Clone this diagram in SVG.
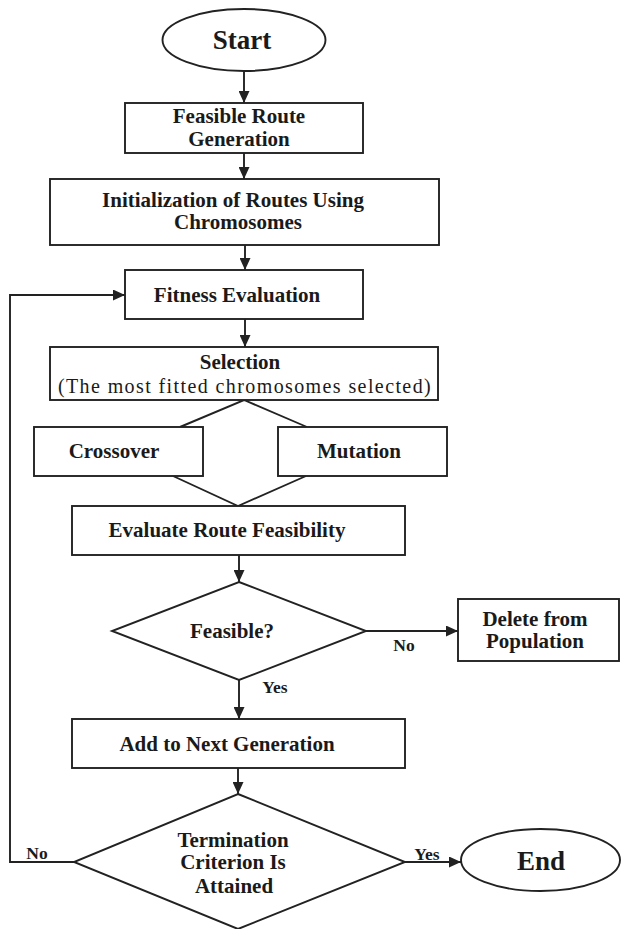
<svg xmlns="http://www.w3.org/2000/svg" width="621" height="929" viewBox="0 0 621 929">
<style>
.shape{fill:#fff;stroke:#222;stroke-width:1.9}
.line{fill:none;stroke:#222;stroke-width:1.9}
.t{font-family:"Liberation Serif","Times New Roman",serif;font-weight:bold;font-size:21px;fill:#1a1a1a;text-anchor:middle}
.big{font-size:27px}
.lbl{font-size:17.5px}
.reg{font-weight:normal;font-size:20px;letter-spacing:1.4px}
</style>
<defs>
<marker id="ah" viewBox="0 0 12 11" refX="12" refY="5.5" markerWidth="12" markerHeight="11" markerUnits="userSpaceOnUse" orient="auto">
<path d="M0,0 L12,5.5 L0,11 z" fill="#222"/>
</marker>
</defs>
<rect width="621" height="929" fill="#fff"/>

<g id="connectors">
<line class="line" x1="244" y1="71" x2="244" y2="103" marker-end="url(#ah)"/>
<line class="line" x1="244" y1="153" x2="244" y2="179" marker-end="url(#ah)"/>
<line class="line" x1="245" y1="245" x2="245" y2="270" marker-end="url(#ah)"/>
<line class="line" x1="245" y1="319" x2="245" y2="347" marker-end="url(#ah)"/>
<polyline class="line" points="180,427 244,400 307,427"/>
<polyline class="line" points="173,476 238,506 306,476"/>
<line class="line" x1="239" y1="555" x2="239" y2="582" marker-end="url(#ah)"/>
<line class="line" x1="366" y1="631" x2="458" y2="631" marker-end="url(#ah)"/>
<line class="line" x1="239" y1="680" x2="239" y2="719" marker-end="url(#ah)"/>
<line class="line" x1="238" y1="768" x2="238" y2="794" marker-end="url(#ah)"/>
<line class="line" x1="405" y1="862" x2="461" y2="862" marker-end="url(#ah)"/>
<polyline class="line" points="74,862 10,862 10,295 125,295" marker-end="url(#ah)"/>
<text class="t lbl" x="404" y="651">No</text>
<text class="t lbl" x="275" y="693">Yes</text>
<text class="t lbl" x="427" y="860">Yes</text>
<text class="t lbl" x="37" y="859">No</text>
</g>

<g id="start">
<ellipse class="shape" cx="244" cy="40" rx="81.5" ry="31"/>
<text class="t big" x="242" y="49">Start</text>
</g>

<g id="feasible-route-generation">
<rect class="shape" x="125" y="103" width="238" height="50"/>
<text class="t" x="239" y="123">Feasible Route</text>
<text class="t" x="239" y="146">Generation</text>
</g>

<g id="initialization">
<rect class="shape" x="50" y="179" width="389" height="66"/>
<text class="t" x="233" y="207">Initialization of Routes Using</text>
<text class="t" x="238" y="229">Chromosomes</text>
</g>

<g id="fitness-evaluation">
<rect class="shape" x="125" y="270" width="238" height="49"/>
<text class="t" x="237" y="302">Fitness Evaluation</text>
</g>

<g id="selection">
<rect class="shape" x="50" y="347" width="388" height="53"/>
<text class="t" x="240" y="369">Selection</text>
<text class="t reg" x="245" y="393">(The most fitted chromosomes selected)</text>
</g>

<g id="crossover">
<rect class="shape" x="34" y="427" width="169" height="49"/>
<text class="t" x="114" y="458">Crossover</text>
</g>

<g id="mutation">
<rect class="shape" x="278" y="427" width="169" height="49"/>
<text class="t" x="359" y="458">Mutation</text>
</g>

<g id="evaluate-route-feasibility">
<rect class="shape" x="72" y="506" width="333" height="49"/>
<text class="t" x="227" y="537">Evaluate Route Feasibility</text>
</g>

<g id="feasible-decision">
<polygon class="shape" points="239,582 366,631 239,680 112,631"/>
<text class="t" x="232" y="638">Feasible?</text>
</g>

<g id="delete-from-population">
<rect class="shape" x="458" y="599" width="161" height="62"/>
<text class="t" x="535" y="626">Delete from</text>
<text class="t" x="535" y="648">Population</text>
</g>

<g id="add-to-next-generation">
<rect class="shape" x="72" y="719" width="333" height="49"/>
<text class="t" x="227" y="751">Add to Next Generation</text>
</g>

<g id="termination-decision">
<polygon class="shape" points="238,794 405,862 238,929 74,862"/>
<text class="t" x="233" y="847">Termination</text>
<text class="t" x="233" y="869">Criterion Is</text>
<text class="t" x="234" y="893">Attained</text>
</g>

<g id="end">
<ellipse class="shape" cx="540.5" cy="860" rx="79.5" ry="31"/>
<text class="t big" x="541" y="870">End</text>
</g>
</svg>
